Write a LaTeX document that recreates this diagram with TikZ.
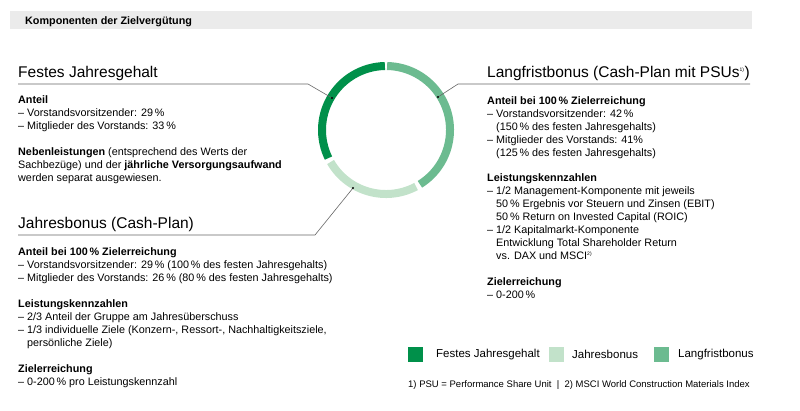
\documentclass[tikz,border=0pt]{standalone}
\usepackage{fontspec}
\setmainfont{Liberation Sans}
\definecolor{gdark}{HTML}{00904A}
\definecolor{glight}{HTML}{C2E2CA}
\definecolor{gmed}{HTML}{6CBB90}
\definecolor{hdr}{HTML}{EBEBEB}
\tikzset{
  blk/.style={anchor=north west,align=left,inner sep=0pt,font=\fontsize{10.8}{13}\selectfont},
  ttl/.style={anchor=base west,inner sep=0pt,font=\fontsize{15.5}{18}\selectfont},
  lead/.style={draw=gray!80!black,line width=0.6pt},
  seg/.style={line width=8pt},
  sq/.style={minimum size=15pt,inner sep=0pt},
  leg/.style={anchor=west,inner sep=0pt,font=\fontsize{11.5}{13}\selectfont}
}
\newcommand{\pct}{\,\%}
\begin{document}
\begin{tikzpicture}[x=1pt,y=-1pt]
\useasboundingbox (0,0) rectangle (800,410);
\fill[hdr] (10,11) rectangle (752,29);
\node[anchor=base west,inner sep=0pt,font=\bfseries\fontsize{10.8}{12}\selectfont] (hd) at (25,24) {Komponenten der Zielvergütung};
% donut
\coordinate (c) at (386,130);
\draw[seg,glight] (c) ++(-210:64) arc[start angle=-210,end angle=-298,radius=64];
\draw[seg,gmed] (c) ++(-302:64) arc[start angle=-302,end angle=-449,radius=64];
\draw[seg,gdark] (c) ++(-91:64) arc[start angle=-91,end angle=-206,radius=64];
% left top
\node[ttl] (t1) at (18,77) {Festes Jahresgehalt};
\coordinate (l1a) at (18,84); \coordinate (l1b) at (308,84); \coordinate (l1c) at (332,98);
\draw[lead] (l1a) -- (l1b) -- (l1c); \fill (l1c) circle (1.2);
\node[blk] (b1) at (18,95) {\textbf{Anteil}\\– Vorstandsvorsitzender: 29\pct\\– Mitglieder des Vorstands: 33\pct};
\node[blk] (b2) at (18,147) {\textbf{Nebenleistungen} (entsprechend des Werts der\\Sachbezüge) und der \textbf{jährliche Versorgungsaufwand}\\werden separat ausgewiesen.};
% Jahresbonus
\node[ttl] (t2) at (18,228) {Jahresbonus (Cash-Plan)};
\coordinate (l2a) at (18,235); \coordinate (l2b) at (315,235); \coordinate (l2c) at (353,188);
\draw[lead] (l2a) -- (l2b) -- (l2c); \fill (l2c) circle (1.2);
\node[blk] (b3) at (18,247) {\textbf{Anteil bei 100\pct\ Zielerreichung}\\– Vorstandsvorsitzender: 29\pct\ (100\pct\ des festen Jahresgehalts)\\– Mitglieder des Vorstands: 26\pct\ (80\pct\ des festen Jahresgehalts)};
\node[blk] (b4) at (18,299) {\textbf{Leistungskennzahlen}\\– 2/3 Anteil der Gruppe am Jahresüberschuss\\– 1/3 individuelle Ziele (Konzern-, Ressort-, Nachhaltigkeitsziele,\\\phantom{– }persönliche Ziele)};
\node[blk] (b5) at (18,364) {\textbf{Zielerreichung}\\– 0-200\pct\ pro Leistungskennzahl};
% right
\node[ttl] (t3) at (487,77) {Langfristbonus (Cash-Plan mit PSUs\textsuperscript{\tiny 1)})};
\coordinate (l3a) at (750,84); \coordinate (l3b) at (458,84); \coordinate (l3c) at (438,97);
\draw[lead] (l3a) -- (l3b) -- (l3c); \fill (l3c) circle (1.2);
\node[blk] (b6) at (487,96) {\textbf{Anteil bei 100\pct\ Zielerreichung}\\– Vorstandsvorsitzender: 42\pct\\\phantom{– }(150\pct\ des festen Jahresgehalts)\\– Mitglieder des Vorstands: 41\%\\\phantom{– }(125\pct\ des festen Jahresgehalts)};
\node[blk] (b7) at (487,173) {\textbf{Leistungskennzahlen}\\– 1/2 Management-Komponente mit jeweils\\\phantom{– }50\pct\ Ergebnis vor Steuern und Zinsen (EBIT)\\\phantom{– }50\pct\ Return on Invested Capital (ROIC)\\– 1/2 Kapitalmarkt-Komponente\\\phantom{– }Entwicklung Total Shareholder Return\\\phantom{– }vs. DAX und MSCI\textsuperscript{\tiny 2)}};
\node[blk] (b8) at (487,277) {\textbf{Zielerreichung}\\– 0-200\pct};
% legend
\node[sq,fill=gdark] (s1) at (415.5,354.5) {};
\node[leg] (g1) at (436,354.5) {Festes Jahresgehalt};
\node[sq,fill=glight] (s2) at (556,354.5) {};
\node[leg] (g2) at (572,354.5) {Jahresbonus};
\node[sq,fill=gmed] (s3) at (661,354.5) {};
\node[leg] (g3) at (678,354.5) {Langfristbonus};
\node[anchor=base west,inner sep=0pt,font=\fontsize{9.5}{11}\selectfont] (fn) at (408,387) {1) PSU = Performance Share Unit \ | \ 2) MSCI World Construction Materials Index};
\end{tikzpicture}
\end{document}
